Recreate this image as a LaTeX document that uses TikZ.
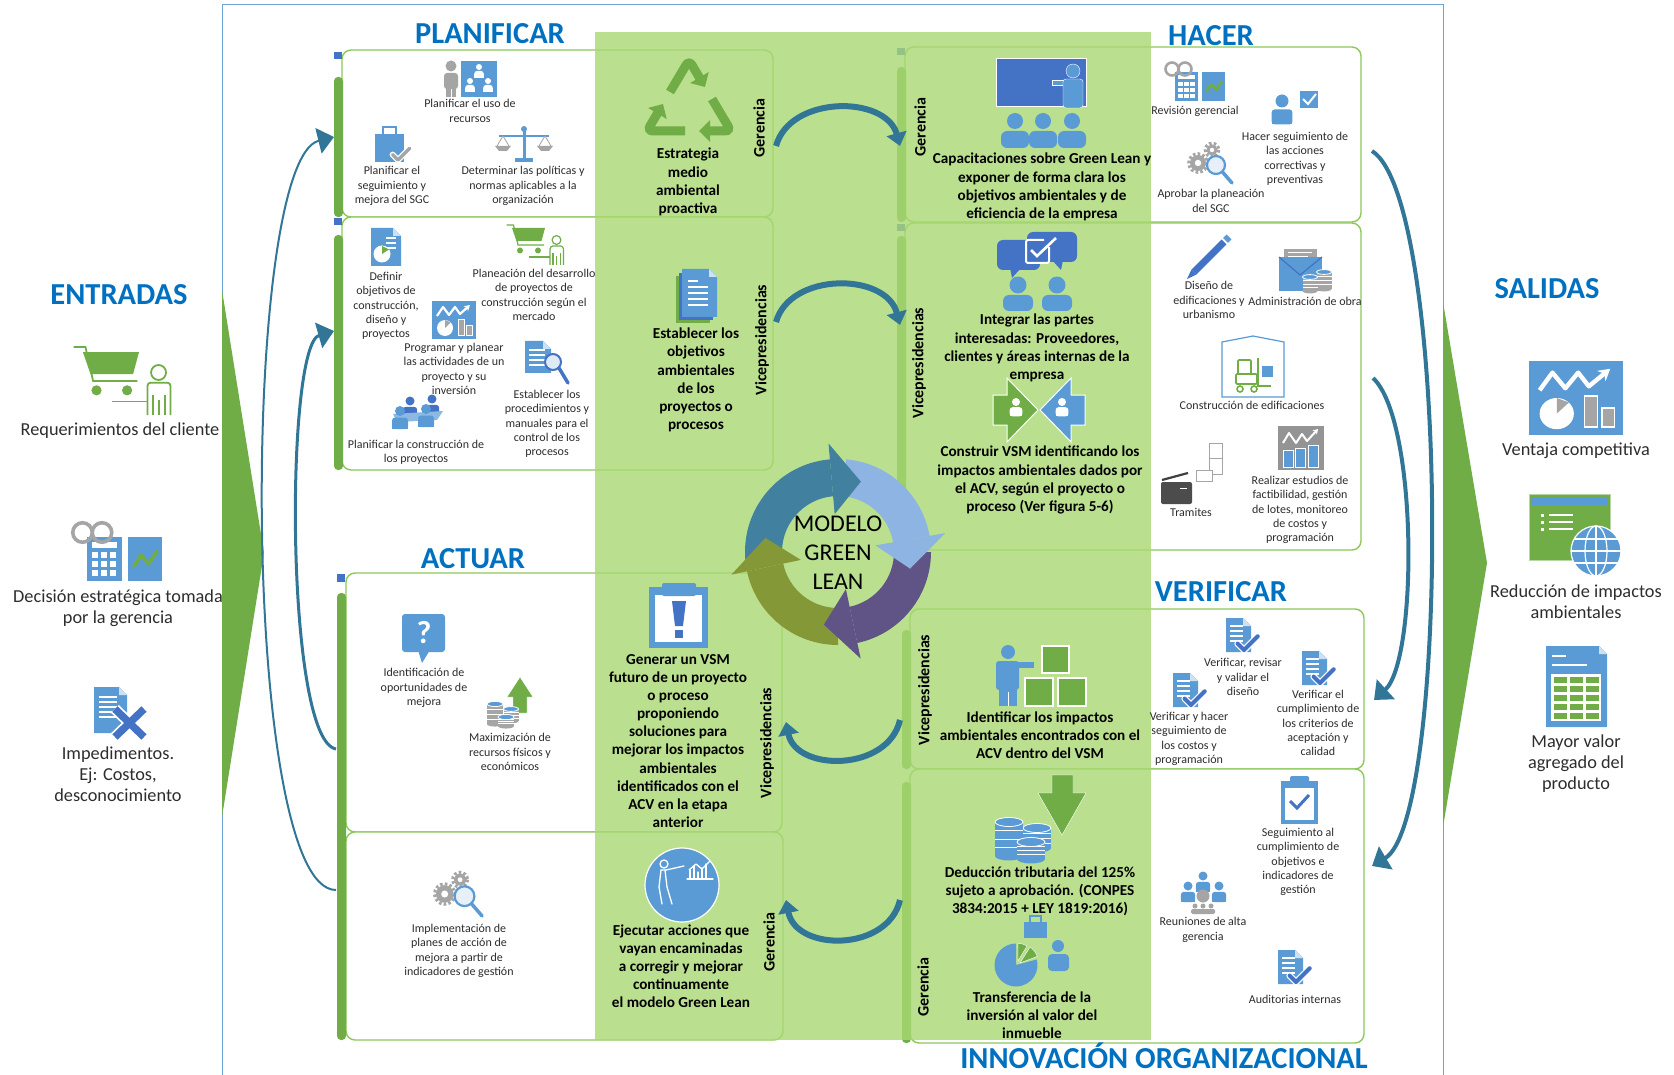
\documentclass[tikz,border=0pt]{standalone}
\usepackage{fontspec}
\setmainfont{Carlito}
\usetikzlibrary{arrows.meta}

\definecolor{ttl}{RGB}{0,112,192}
\definecolor{colg}{RGB}{169,216,115}
\definecolor{pline}{RGB}{140,200,90}
\definecolor{pbar}{RGB}{112,173,71}
\definecolor{mkblue}{RGB}{68,114,196}
\definecolor{arr}{RGB}{49,118,150}
\definecolor{ib}{RGB}{91,155,213}
\definecolor{idb}{RGB}{68,114,196}
\definecolor{ig}{RGB}{165,165,165}
\definecolor{igr}{RGB}{112,173,71}
\definecolor{frm}{RGB}{110,165,215}
\definecolor{cteal}{RGB}{66,128,160}
\definecolor{clb}{RGB}{141,180,226}
\definecolor{cpur}{RGB}{96,84,135}
\definecolor{coli}{RGB}{133,152,56}
\definecolor{txt}{RGB}{45,45,45}

% page with a folded corner: x1, y1, x2, y2, colour
\newcommand\docshape[5]{%
  \fill[#5] (#1,#2) -- (#3-8,#2) -- (#3,#2+8) -- (#3,#4) -- (#1,#4) -- cycle;
  \fill[white!70!#5] (#3-8,#2) -- (#3-8,#2+8) -- (#3,#2+8) -- cycle;}
% head and shoulders: head centre x, y, head radius, colour
\newcommand\headfig[4]{%
  \fill[#4] (#1,#2) circle[radius=#3];
  \fill[#4, rounded corners=3] (#1-1.6*#3,#2+1.3*#3) rectangle (#1+1.6*#3,#2+3.6*#3);
  \fill[#4] (#1-1.6*#3,#2+2.6*#3) rectangle (#1+1.6*#3,#2+3.6*#3);}
% cog wheel: centre x, y, radius
\newcommand\gearicon[3]{%
  \fill[ig] (#1,#2) circle[radius=#3];
  \draw[ig, line width=3, dash pattern=on 2.6pt off 2.2pt] (#1,#2) circle[radius=#3+1.3];
  \fill[white] (#1,#2) circle[radius=0.4*#3];}
% stack of coins: centre x, top y, half width, height, body colour, top colour
\newcommand\coinstack[6]{%
  \fill[#5] (#1-#3,#2) rectangle (#1+#3,#2+#4);
  \fill[#5] (#1,#2+#4) ellipse[x radius=#3, y radius=0.32*#3];
  \foreach \k in {1,2,3}{\draw[white, line width=0.8] (#1-#3,#2+\k*#4/4) -- (#1+#3,#2+\k*#4/4);}
  \fill[#6, draw=white, line width=0.8] (#1,#2) ellipse[x radius=#3, y radius=0.32*#3];}
% check mark: bend x, y, size, colour, stroke width
\newcommand\tickmark[5]{%
  \draw[white, line width=#5+2.5, line cap=round, line join=round] (#1-6*#3,#2-6*#3) -- (#1,#2) -- (#1+13*#3,#2-13*#3);
  \draw[#4, line width=#5, line cap=round, line join=round] (#1-6*#3,#2-6*#3) -- (#1,#2) -- (#1+13*#3,#2-13*#3);}

\tikzset{
  pics/doccheck/.style={code={
    \docshape{-16}{-17}{9}{17}{ib}
    \foreach \yy in {-9,-4,1,6}{\draw[white, line width=1.2] (-12,\yy) -- (1,\yy);}
    \tickmark{2}{15}{1.05}{idb}{4.2}
  }},
  pics/cartp/.style={code={
    \draw[igr, line width=#1] (-28.5,-20) -- (-21.5,-20) -- (-17,0) -- (9,0);
    \fill[igr] (-23,-17) -- (10,-17) -- (6.5,-4) -- (-18.5,-4) -- cycle;
    \fill[igr] (-15,5.5) circle[radius=3] (3,5.5) circle[radius=3];
    \draw[igr, line width=#1] (-6,12) -- (14.5,12);
    \draw[igr, line width=#1] (21.5,-5) circle[radius=4.4];
    \draw[igr, line width=#1, rounded corners=3] (15,20) -- (15,1) -- (28.5,1) -- (28.5,20);
    \draw[igr, line width=#1] (18,8) -- (18,20) (25.5,8) -- (25.5,20) (21.75,11) -- (21.75,20);
  }},
  pics/chartsq/.style n args={3}{code={
    \fill[#1] (-22,-19) rectangle (22,19);
    \draw[white, line width=#3, line join=round, -{Stealth[length=0pt 2.6, width=0pt 3]}]
      (-17,-4) -- (-11,-13) -- (-5,-5) -- (1,-13) -- (6,-6) -- (16,-15);
    \fill[white] (-9,8) circle[radius=8];
    \fill[#2] (-9,8) -- (-9,0) -- (-3.3,2.3) -- cycle;
    \fill[#2, draw=white, line width=0.4*#3] (4,-1) rectangle (10,15);
    \fill[#2, draw=white, line width=0.4*#3] (12,5) rectangle (18,15);
  }},
  pics/glasscalc/.style={code={
    \fill[ib] (-20,-8) rectangle (3,21);
    \fill[white] (-17,-5) rectangle (0,-1);
    \foreach \i in {0,1,2}{\foreach \j in {0,1,2}{\fill[white] (-17+\i*6,2+\j*6) rectangle (-12.5+\i*6,6+\j*6);}}
    \fill[ib] (7,-8) rectangle (30,21);
    \draw[igr, line width=#1, line join=round] (11,12) -- (16,4) -- (21,10) -- (27,1);
    \draw[ig, line width=#1] (-23,-11) circle[radius=6.5] (-10,-11) circle[radius=6.5];
  }},
  pics/gearmag/.style={code={
    \gearicon{-13}{0}{8}
    \gearicon{1}{-13}{5.5}
    \fill[white!85!ib] (5,2) circle[radius=9];
    \draw[ib, line width=2.2] (5,2) circle[radius=9];
    \draw[ib, line width=3.5, line cap=round] (11.5,9) -- (21,20);
  }},
}

\begin{document}
\begin{tikzpicture}[x=1pt,y=-1pt,
  title/.style={font=\fontsize{30.5}{32}\selectfont\bfseries, text=ttl, inner sep=0},
  lbl/.style={font=\fontsize{12}{14.4}\selectfont, text=txt, align=center, inner sep=0},
  blbl/.style={font=\fontsize{15.2}{18.1}\selectfont\bfseries, align=center, inner sep=0},
  side/.style={font=\fontsize{18.3}{21}\selectfont, text=txt, align=center, inner sep=0},
  role/.style={font=\fontsize{16}{16}\selectfont\bfseries, rotate=90, inner sep=0},
  panel/.style={draw=pline, line width=1.4, rounded corners=9, fill=white},
  loopar/.style={draw=arr, line width=2, -{Triangle[length=16pt,width=26pt]}},
  arcar/.style={draw=arr, line width=6, -{Triangle[length=13pt,width=20pt]}},
  sidear/.style={draw=arr, line width=4, -{Triangle[length=16pt,width=26pt]}},
]
\useasboundingbox (0,0) rectangle (1674,1075);

% outer frame
\draw[frm, line width=1] (222,1075) -- (222,5) -- (1443,5) -- (1443,1075);

% panels
\draw[panel] (342,50) rectangle (773,217);
\draw[panel] (342,217) rectangle (773,470);
\draw[panel] (905,47) rectangle (1361,222);
\draw[panel] (905,223) rectangle (1361,550);
\draw[panel] (346,573) rectangle (782,832);
\draw[panel] (346,832) rectangle (783,1040);
\draw[panel] (910,609) rectangle (1364,769);
\draw[panel] (910,769) rectangle (1364,1043);

% left bars and corner markers of the panels
\fill[pbar, rounded corners=4] (334,77) rectangle (343,217);
\fill[pbar, rounded corners=4] (334,235) rectangle (343,470);
\fill[pbar, rounded corners=4] (897,67) rectangle (906,222);
\fill[pbar, rounded corners=4] (897,236) rectangle (906,550);
\fill[pbar, rounded corners=4] (337,593) rectangle (346,1040);
\fill[pbar, rounded corners=4] (902,630) rectangle (911,769);
\fill[pbar, rounded corners=4] (902,782) rectangle (911,1043);
\fill[mkblue] (334,52) rectangle (342,59);
\fill[mkblue] (334,218) rectangle (342,225);
\fill[mkblue] (897,48) rectangle (905,55);
\fill[mkblue] (897,224) rectangle (905,231);
\fill[mkblue] (337,574) rectangle (345,582);

% central column
\fill[colg, opacity=0.8] (595,32) rectangle (1151,1040);

% input and output arrows
\fill[pbar] (222,290) -- (264,553) -- (222,817) -- cycle;
\fill[pbar] (1443,302) -- (1487,563) -- (1443,827) -- cycle;

% titles
\node[title] (tplan) at (490,34) {PLANIFICAR};
\node[title] (thac) at (1211,36) {HACER};
\node[title] (tact) at (473,559) {ACTUAR};
\node[title] (tver) at (1221,592) {VERIFICAR};
\node[title] (tinn) at (1164,1056) {INNOVACIÓN ORGANIZACIONAL};
\node[title] (tent) at (119,295) {ENTRADAS};
\node[title] (tsal) at (1547,289) {SALIDAS};

% role labels
\node[role] (r1) at (759,128) {Gerencia};
\node[role] (r2) at (762,340) {Vicepresidencias};
\node[role] (r3) at (920,127) {Gerencia};
\node[role] (r4) at (919,363) {Vicepresidencias};
\node[role] (r5) at (767,743) {Vicepresidencias};
\node[role] (r6) at (769,942) {Gerencia};
\node[role] (r7) at (925,690) {Vicepresidencias};
\node[role] (r8) at (923,987) {Gerencia};

% cycle in the middle
\begin{scope}[shift={(838,552)}, yscale=-1]
  \fill[cteal] (185:93) arc[start angle=185, end angle=95, radius=93] -- (95:56) arc[start angle=95, end angle=185, radius=56] -- cycle;
  \fill[clb] (85:93) arc[start angle=85, end angle=10, radius=93] -- (10:56) arc[start angle=10, end angle=85, radius=56] -- cycle;
  \fill[cpur] (0:93) arc[start angle=0, end angle=-78, radius=93] -- (-78:56) arc[start angle=-78, end angle=0, radius=56] -- cycle;
  \fill[coli] (-90:93) arc[start angle=-90, end angle=-168, radius=93] -- (-168:56) arc[start angle=-168, end angle=-90, radius=56] -- cycle;
  \fill[cteal] (95:38) -- (95:109) -- (72:74) -- cycle;
  \fill[clb] (10:38) -- (10:109) -- (-13:74) -- cycle;
  \fill[cpur] (-78:38) -- (-78:109) -- (-101:74) -- cycle;
  \fill[coli] (-168:38) -- (-168:109) -- (-191:74) -- cycle;
\end{scope}
\node[font=\fontsize{24}{29}\selectfont, align=center, inner sep=0] (model) at (838,553) {MODELO\\GREEN\\LEAN};

% arrows between the two columns
\coordinate (g1a) at (776,146); \coordinate (g1b) at (900,146);
\coordinate (g2a) at (776,322); \coordinate (g2b) at (900,325);
\coordinate (g3a) at (900,720); \coordinate (g3b) at (786,722);
\coordinate (g4a) at (900,900); \coordinate (g4b) at (786,900);
\draw[arcar] (g1a) .. controls (790,95) and (886,95) .. (g1b);
\draw[arcar] (g2a) .. controls (790,272) and (886,272) .. (g2b);
\draw[arcar] (g3a) .. controls (888,772) and (796,772) .. (g3b);
\draw[arcar] (g4a) .. controls (888,952) and (796,952) .. (g4b);

% feedback arrows on the left and right
\coordinate (la1) at (336,890); \coordinate (lb1) at (334,137);
\coordinate (la2) at (336,749); \coordinate (lb2) at (334,331);
\draw[loopar] (la1) .. controls (240,890) and (240,160) .. (lb1);
\draw[loopar, line width=3] (la2) .. controls (285,740) and (285,345) .. (lb2);
\coordinate (ra1) at (1372,151); \coordinate (rb1) at (1372,866);
\coordinate (ra2) at (1373,378); \coordinate (rb2) at (1374,700);
\draw[sidear] (ra1) .. controls (1450,200) and (1450,820) .. (rb1);
\draw[sidear] (ra2) .. controls (1418,420) and (1418,660) .. (rb2);

% ---------- PLANIFICAR ----------
% resource planning
\fill[ig] (451,66) circle[radius=5.5];
\fill[ig, rounded corners=3] (444,73) rectangle (458,89);
\fill[ig] (446,87) rectangle (456,97);
\draw[white, line width=0.8] (451,89) -- (451,97);
\fill[ib] (461,61) rectangle (497,97);
\headfig{479}{67}{3}{white}
\headfig{470}{81}{3}{white}
\headfig{488}{81}{3}{white}
% bag with check
\fill[ib] (375,134) rectangle (404,162);
\draw[ib, line width=2.5] (383,134) -- (383,127) -- (396,127) -- (396,134);
\tickmark{398}{160}{0.9}{ig}{3.5}
% scales
\draw[ib, line width=3] (524,129) -- (524,159);
\fill[ib] (515,158) rectangle (533,162);
\draw[ib, line width=2.5] (499,136) -- (549,136);
\fill[ib] (524,129) circle[radius=3];
\draw[ig, line width=0.8] (503,136) -- (497,146) (503,136) -- (509,146) (545,136) -- (539,146) (545,136) -- (551,146);
\fill[ig] (495,146) -- (511,146) -- (507,151) -- (499,151) -- cycle;
\fill[ig] (537,146) -- (553,146) -- (549,151) -- (541,151) -- cycle;
% recycling symbol
\begin{scope}[igr, line width=9, rounded corners=6]
  \draw[-{Triangle[length=11pt,width=21pt]}] (670,92) -- (689,60) -- (705,87);
  \draw[-{Triangle[length=11pt,width=21pt]}] (712,99) -- (731,131) -- (699,131);
  \draw[-{Triangle[length=11pt,width=21pt]}] (685,131) -- (647,131) -- (663,104);
\end{scope}
% document with pie
\docshape{371}{228}{401}{266}{ib}
\foreach \yy in {238,243,248}{\draw[white, line width=1.2] (386,\yy) -- (396,\yy);}
\fill[white] (382,254) circle[radius=8.5];
\fill[igr] (382,254) -- (382,246) -- (389,249.5) -- cycle;
% cart and customer
\pic at (535,245) {cartp=1.2};
% chart square
\pic at (454,320) {chartsq={ib}{ig}{2.2}};
% document and magnifier
\docshape{525}{341}{551}{373}{ib}
\foreach \yy in {350,355,360,365}{\draw[white, line width=1.1] (529,\yy) -- (545,\yy);}
\fill[white!80!ib] (553,362) circle[radius=8];
\draw[idb, line width=2] (553,362) circle[radius=8];
\draw[idb, line width=3.5, line cap=round] (559,368) -- (568,383);
% meeting group
\headfig{410}{401}{4.5}{idb}
\headfig{432}{399}{4.5}{idb}
\fill[ib!70!white] (393,414) -- (443,411) -- (437,420) -- (397,422) -- cycle;
\headfig{400}{411}{5}{ib}
\headfig{426}{409}{5}{ib}
% stacked documents
\fill[igr] (676,276) rectangle (710,323);
\fill[idb] (679,273) rectangle (713,320);
\docshape{682}{269}{717}{317}{ib}
\foreach \yy/\xe in {281/698,287/708,293/708,299/708,305/708}{\draw[white, line width=1.2] (688,\yy) -- (\xe,\yy);}

\node[lbl] (l1) at (470,111) {Planificar el uso de\\recursos};
\node[lbl] (l2) at (392,186) {Planificar el\\seguimiento y\\mejora del SGC};
\node[lbl] (l3) at (523,186) {Determinar las políticas y\\normas aplicables a la\\organización};
\node[blbl] (l4) at (688,182) {Estrategia\\medio\\ambiental\\proactiva};
\node[lbl] (l5) at (386,306) {Definir\\objetivos de\\construcción,\\diseño y\\proyectos};
\node[lbl] (l6) at (534,295) {Planeación del desarrollo\\de proyectos de\\construcción según el\\mercado};
\node[lbl] (l7) at (454,369) {Programar y planear\\las actividades de un\\proyecto y su\\inversión};
\node[lbl] (l8) at (547,424) {Establecer los\\procedimientos y\\manuales para el\\control de los\\procesos};
\node[lbl] (l9) at (416,452) {Planificar la construcción de\\los proyectos};
\node[blbl] (l10) at (696,380) {Establecer los\\objetivos\\ambientales\\de los\\proyectos o\\procesos};

% ---------- HACER ----------
% training board
\fill[idb, draw=white, line width=1] (996,59) rectangle (1086,107);
\fill[ib, draw=white] (1073,71) circle[radius=7];
\fill[ib, draw=white] (1052,80) rectangle (1066,85);
\fill[ib, draw=white, rounded corners=3] (1063,79) rectangle (1083,108);
\foreach \xx in {1015,1043,1072}{
  \fill[ib] (\xx,121) circle[radius=8];
  \fill[ib, rounded corners=6] (\xx-14,131) rectangle (\xx+14,148);}
% review
\pic at (1195,80) {glasscalc=2.6};
% person and check box
\headfig{1282}{101}{6.5}{ib}
\fill[ib] (1300,91) rectangle (1318,108);
\draw[white, line width=2] (1303,99) -- (1308,104) -- (1316,94);
% gears and magnifier
\pic at (1211,163) {gearmag};
% speech bubbles
\fill[idb, rounded corners=6] (997,240) rectangle (1040,270);
\fill[idb] (1010,268) -- (1021,268) -- (1012,278) -- cycle;
\fill[idb, rounded corners=6] (1027,232) rectangle (1077,262);
\fill[idb] (1052,260) -- (1063,260) -- (1061,270) -- cycle;
\draw[white, line width=2, rounded corners=2] (1049,247) -- (1049,263) -- (1026,263) -- (1026,240) -- (1044,240);
\draw[white, line width=2.6] (1031,250) -- (1037,256) -- (1056,238);
\foreach \xx in {1018,1057}{
  \fill[ib] (\xx,285) circle[radius=8.5];
  \fill[ib, rounded corners=6] (\xx-15,295) rectangle (\xx+15,311);}
% meeting arrows
\fill[igr, draw=white, line width=1] (993,395) -- (1007,395) -- (1007,378) -- (1038,410) -- (1007,442) -- (1007,425) -- (993,425) -- cycle;
\fill[ib, draw=white, line width=1] (1085,395) -- (1071,395) -- (1071,378) -- (1040,410) -- (1071,442) -- (1071,425) -- (1085,425) -- cycle;
\headfig{1016}{402}{4}{white}
\headfig{1062}{402}{4}{white}
% pencil
\draw[idb, line width=7] (1194,272) -- (1224,242);
\fill[idb] (1191.5,269.5) -- (1196.5,274.5) -- (1187,279) -- cycle;
\draw[ib, line width=7] (1225.5,240.5) -- (1229,237);
% envelope and coins
\fill[ig] (1284,249) rectangle (1317,262);
\draw[white, line width=1] (1288,253) -- (1312,253) (1288,257) -- (1308,257);
\fill[ib] (1279,257) rectangle (1322,291);
\draw[idb, line width=1.2] (1279,257) -- (1300,275) -- (1322,257);
\coinstack{1324}{272}{7.5}{17}{ig}{ib}
\coinstack{1310}{277}{7.5}{14}{ig}{ib}
% building with forklift
\draw[ib, line width=1.2, fill=white] (1222,342) -- (1253,336) -- (1284,342) -- (1284,397) -- (1222,397) -- cycle;
\draw[igr, line width=1.6, rounded corners=1] (1238,360) rectangle (1251,374);
\draw[igr, line width=1.6, rounded corners=1] (1236,374) rectangle (1257,384);
\draw[igr, line width=1.6] (1258,358) -- (1258,386) -- (1271,386);
\draw[igr, line width=1.6] (1240,389) circle[radius=3] (1254,389) circle[radius=3];
\fill[ib] (1262,366) rectangle (1273,377);
% fax and papers
\fill[black!70, rounded corners=2] (1161,482) rectangle (1192,504);
\draw[black!75, line width=2.2] (1162,480) -- (1188,473);
\draw[white, line width=0.8] (1180,488) -- (1187,488);
\draw[ig, fill=white] (1209,443) rectangle (1222,458);
\draw[ig, fill=white] (1209,458) rectangle (1222,474);
\draw[ig, fill=white] (1196,470) rectangle (1212,481);
% grey chart
\fill[ig!90!black] (1278,426) rectangle (1324,470);
\draw[white, line width=2, line join=round, -{Stealth[length=5pt,width=6pt]}] (1283,443) -- (1289,433) -- (1296,443) -- (1302,434) -- (1307,441) -- (1318,429);
\fill[ib, draw=white] (1283,450) rectangle (1293,467);
\fill[ib, draw=white] (1295,448) rectangle (1305,467);
\fill[ib, draw=white] (1308,445) rectangle (1318,467);

\node[blbl] (l11) at (1042,187) {Capacitaciones sobre Green Lean y\\exponer de forma clara los\\objetivos ambientales y de\\eficiencia de la empresa};
\node[lbl] (l12) at (1195,111) {Revisión gerencial};
\node[lbl] (l13) at (1295,159) {Hacer seguimiento de\\las acciones\\correctivas y\\preventivas};
\node[lbl] (l14) at (1211,201) {Aprobar la planeación\\del SGC};
\node[blbl] (l15) at (1037,348) {Integrar las partes\\interesadas: Proveedores,\\clientes y áreas internas de la\\empresa};
\node[blbl] (l16) at (1040,480) {Construir VSM identificando los\\impactos ambientales dados por\\el ACV, según el proyecto o\\proceso (Ver figura 5-6)};
\node[lbl] (l17) at (1209,300) {Diseño de\\edificaciones y\\urbanismo};
\node[lbl] (l18) at (1305,301) {Administración de obra};
\node[lbl] (l19) at (1252,405) {Construcción de edificaciones};
\node[lbl] (l20) at (1191,512) {Tramites};
\node[lbl] (l21) at (1300,510) {Realizar estudios de\\factibilidad, gestión\\de lotes, monitoreo\\de costos y\\programación};

% ---------- ACTUAR ----------
% question bubble
\fill[ib, rounded corners=3] (402,614) rectangle (445,652);
\fill[ib] (418,650) -- (430,650) -- (422,663) -- cycle;
\node[text=white, font=\fontsize{32}{32}\selectfont\bfseries, inner sep=0] (qmark) at (424,633) {?};
% coins and up arrow
\fill[igr, draw=white] (507,697) -- (520,677) -- (533,697) -- (527,697) -- (527,713) -- (513,713) -- (513,697) -- cycle;
\coinstack{495}{704}{8}{20}{ig}{ib}
\coinstack{511}{709}{7.5}{12}{ig}{ib}
\coinstack{506}{717}{8}{9}{ig}{ib}
% clipboard with exclamation mark
\fill[ib] (649,587) rectangle (708,648);
\fill[white] (655,595) rectangle (702,642);
\fill[ib, rounded corners=2] (662,583) rectangle (696,596);
\fill[idb] (672,601) -- (686,601) -- (683,626) -- (675,626) -- cycle;
\fill[idb] (675,630) rectangle (683,638);
% gears and magnifier
\pic[scale=1.1] at (459,894) {gearmag};
% circle with presenter
\fill[ib, draw=white, line width=1.2] (682,885) circle[radius=37];
\begin{scope}[white, line width=1.3, line cap=round, line join=round]
  \draw (664,864) circle[radius=4];
  \draw (661,870) -- (659,887) -- (662,904) (665,870) -- (667,887) -- (672,904);
  \draw (661,870) -- (666,870) -- (684,866);
  \draw (687,879) -- (713,879);
  \draw (690,879) -- (690,870) (694,879) -- (694,866) (698,879) -- (698,872) (702,879) -- (702,868) (706,879) -- (706,864);
  \draw (689,870) -- (696,864) -- (702,869) -- (710,861);
\end{scope}

\node[lbl] (l22) at (424,688) {Identificación de\\oportunidades de\\mejora};
\node[lbl] (l23) at (510,752) {Maximización de\\recursos físicos y\\económicos};
\node[blbl] (l24) at (678,741) {Generar un VSM\\futuro de un proyecto\\o proceso\\proponiendo\\soluciones para\\mejorar los impactos\\ambientales\\identificados con el\\ACV en la etapa\\anterior};
\node[lbl] (l25) at (459,951) {Implementación de\\planes de acción de\\mejora a partir de\\indicadores de gestión};
\node[blbl] (l26) at (681,966) {Ejecutar acciones que\\vayan encaminadas\\a corregir y mejorar\\continuamente\\el modelo Green Lean};

% ---------- VERIFICAR ----------
% person and boxes
\fill[ib] (1008,652) circle[radius=7];
\fill[ib, rounded corners=3] (996,661) rectangle (1019,690);
\fill[ib] (999,686) rectangle (1017,706);
\draw[white, line width=1] (1008,692) -- (1008,706);
\fill[ib] (1016,662) rectangle (1034,668);
\fill[igr, draw=white, line width=1.2] (1042,646) rectangle (1069,673);
\fill[igr, draw=white, line width=1.2] (1025,678) rectangle (1053,706);
\fill[igr, draw=white, line width=1.2] (1058,678) rectangle (1086,706);
% checked documents
\pic at (1242,635) {doccheck};
\pic at (1189,690) {doccheck};
\pic at (1318,668) {doccheck};
\pic at (1294,967) {doccheck};
% down arrow and coins
\fill[igr, draw=white] (1052,775) -- (1073,775) -- (1073,793) -- (1086,793) -- (1062,835) -- (1038,793) -- (1052,793) -- cycle;
\coinstack{1037}{828}{14}{20}{ib}{ib}
\coinstack{1009}{822}{14}{34}{ib}{ib}
\coinstack{1031}{842}{14}{17}{ib}{ib}
% pie, bag and person
\fill[ib] (1024,922) rectangle (1047,938);
\draw[ib, line width=2] (1030,922) -- (1030,916) -- (1041,916) -- (1041,922);
\begin{scope}[shift={(1016,965)}, yscale=-1]
  \fill[ib] (0,0) -- (90:21.5) arc[start angle=90, end angle=375, radius=21.5] -- cycle;
  \fill[igr, draw=white] (2,4) -- (60:22) arc[start angle=60, end angle=85, radius=22] -- cycle;
  \fill[igr, draw=white] (4,2) -- (22:23) arc[start angle=22, end angle=52, radius=23] -- cycle;
\end{scope}
\fill[ib] (1058,946) circle[radius=6];
\fill[ib, rounded corners=4] (1048,954) rectangle (1069,971);
% clipboard with check
\fill[ib] (1281,781) rectangle (1318,824);
\fill[white] (1285,788) rectangle (1314,820);
\fill[ib, rounded corners=2] (1290,776) rectangle (1309,787);
\draw[idb, line width=3] (1290,801) -- (1297,808) -- (1309,795);
% senior meeting
\headfig{1203}{876}{4.5}{ib}
\headfig{1188}{886}{4.5}{ib}
\headfig{1219}{886}{4.5}{ib}
\fill[ig] (1203,896) circle[radius=6.5];
\foreach \xx in {1195,1203,1211}{\fill[ig] (\xx,906) circle[radius=2.5];}
\fill[ig, rounded corners=1.5] (1191,909) rectangle (1215,914);

\node[blbl] (l27) at (1040,735) {Identificar los impactos\\ambientales encontrados con el\\ACV dentro del VSM};
\node[lbl] (l28) at (1243,677) {Verificar, revisar\\y validar el\\diseño};
\node[lbl] (l29) at (1189,739) {Verificar y hacer\\seguimiento de\\los costos y\\programación};
\node[lbl] (l30) at (1318,723) {Verificar el\\cumplimiento de\\los criterios de\\aceptación y\\calidad};
\node[blbl] (l31) at (1040,891) {Deducción tributaria del 125\%\\sujeto a aprobación. (CONPES\\3834:2015 + LEY 1819:2016)};
\node[blbl] (l32) at (1032,1015) {Transferencia de la\\inversión al valor del\\inmueble};
\node[lbl] (l33) at (1298,862) {Seguimiento al\\cumplimiento de\\objetivos e\\indicadores de\\gestión};
\node[lbl] (l34) at (1203,930) {Reuniones de alta\\gerencia};
\node[lbl] (l35) at (1295,999) {Auditorias internas};

% ---------- ENTRADAS ----------
\pic[scale=1.7] at (122,381) {cartp=1.8};
\pic[scale=1.5] at (117,549) {glasscalc=3.6};
\docshape{94}{687}{127}{733}{ib}
\foreach \yy in {697,702,707,712,717}{\draw[white, line width=1.3] (99,\yy) -- (117,\yy);}
\draw[white, line width=11] (115,709) -- (144,737) (144,709) -- (115,737);
\draw[idb, line width=7.5] (115,709) -- (144,737) (144,709) -- (115,737);
\node[side] (l36) at (120,431) {Requerimientos del cliente};
\node[side] (l37) at (118,608) {Decisión estratégica tomada\\por la gerencia};
\node[side] (l38) at (118,774) {Impedimentos.\\Ej: Costos,\\desconocimiento};

% ---------- SALIDAS ----------
\pic[xscale=2.14, yscale=1.95] at (1576,398) {chartsq={ib}{ig}{4.4}};
\fill[igr, draw=white!50!igr] (1529,494) rectangle (1610,560);
\fill[ib] (1531,497) rectangle (1608,505);
\foreach \yy in {515,522,529}{\fill[white] (1541,\yy-1.5) rectangle (1544,\yy+1.5); \draw[white, line width=2] (1549,\yy) -- (1573,\yy);}
\fill[ib, draw=white, line width=1.2] (1596,551) circle[radius=25];
\draw[white, line width=1.2] (1596,526) -- (1596,576) (1571,551) -- (1621,551) (1574,539) -- (1618,539) (1574,563) -- (1618,563);
\draw[white, line width=1.2] (1596,551) ellipse[x radius=11, y radius=25];
\docshape{1546}{646}{1607}{727}{ib}
\draw[white, line width=2] (1552,656) -- (1566,656) (1552,665) -- (1587,665);
\fill[white] (1551,674) rectangle (1601,721);
\foreach \i in {0,1,2}{\foreach \j in {0,1,2,3,4}{\fill[igr] (1554+\i*16,677+\j*9) rectangle (1567+\i*16,683+\j*9);}}
\node[side] (l39) at (1576,451) {Ventaja competitiva};
\node[side] (l40) at (1576,602) {Reducción de impactos\\ambientales};
\node[side] (l41) at (1576,764) {Mayor valor\\agregado del\\producto};
\end{tikzpicture}
\end{document}
